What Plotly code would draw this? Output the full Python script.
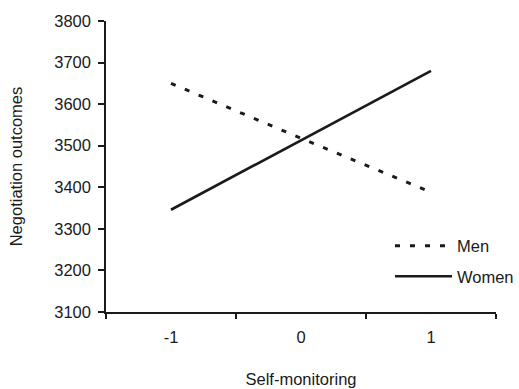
import plotly.graph_objects as go

categories = ["-1", "0", "1"]
men = [3650, 3518, 3388]
women = [3346, 3513, 3680]
y_ticks = [3100, 3200, 3300, 3400, 3500, 3600, 3700, 3800]

FONT = "Liberation Sans, Arial, sans-serif"

fig = go.Figure()
fig.add_trace(go.Scatter(
    x=categories, y=men, name="Men", mode="lines", legendgroup="m",
    line=dict(color="#1a1a1a", width=3, dash="5px,10px"),
))
fig.add_trace(go.Scatter(
    x=categories, y=women, name="Women", mode="lines", legendgroup="w",
    line=dict(color="#1a1a1a", width=2.6),
))

fig.update_layout(
    width=519, height=389,
    margin=dict(l=106, r=23, t=21, b=77, autoexpand=False),
    paper_bgcolor="white", plot_bgcolor="white",
    font=dict(family=FONT, size=16.5, color="#1a1a1a"),
    showlegend=True,
    legend=dict(
        xref="container", yref="container",
        x=0.7514, y=0.4123, xanchor="left", yanchor="top",
        bgcolor="rgba(0,0,0,0)", itemwidth=57, tracegroupgap=6,
        font=dict(size=16.5),
    ),
    xaxis=dict(
        type="category", categoryorder="array", categoryarray=categories,
        range=[-0.5, 2.5], tickson="boundaries", automargin=False,
        showline=True, linecolor="#1a1a1a", linewidth=1.5,
        ticks="outside", ticklen=5, tickcolor="#1a1a1a", tickwidth=1.5,
        showgrid=False, zeroline=False, ticklabelstandoff=9,
        title=dict(text="Self-monitoring", standoff=29, font=dict(size=16.5)),
    ),
    yaxis=dict(
        range=[3100, 3800], tickvals=y_ticks, automargin=False,
        showline=True, linecolor="#1a1a1a", linewidth=1.5,
        ticks="outside", ticklen=6, tickcolor="#1a1a1a", tickwidth=1.5,
        showgrid=False, zeroline=False, ticklabelstandoff=4,
        title=dict(text="Negotiation outcomes", standoff=27, font=dict(size=16.5)),
    ),
)

fig.write_html("out.html")
